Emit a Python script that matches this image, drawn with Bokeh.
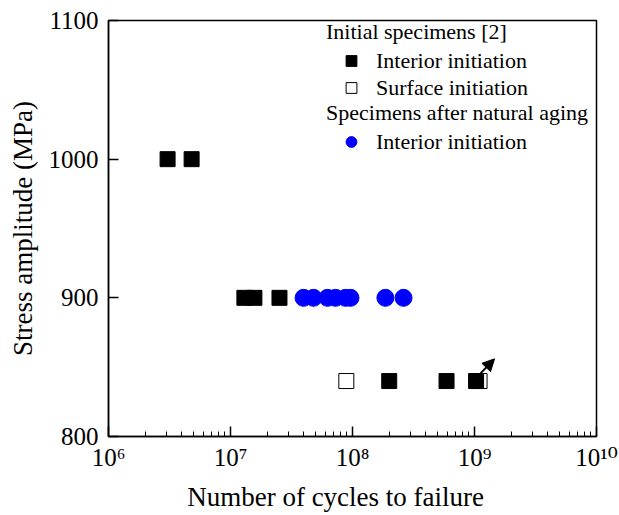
from bokeh.plotting import figure
from bokeh.models import Legend, LegendItem, FixedTicker, LogTicker, Arrow, NormalHead
from bokeh.embed import file_html
from bokeh.resources import INLINE

# ---- data ----
init_interior_n = [3.05e6, 4.8e6, 1.30e7, 1.57e7, 2.52e7, 2.0e8, 5.9e8, 1.03e9]
init_interior_s = [1000, 1000, 900, 900, 900, 840, 840, 840]
init_surface_n = [8.9e7, 1.10e9]
init_surface_s = [840, 840]
aged_interior_n = [3.97e7, 4.79e7, 6.24e7, 7.26e7, 8.77e7, 9.63e7, 1.86e8, 2.62e8]
aged_interior_s = [900, 900, 900, 900, 900, 900, 900, 900]
runout_arrow_start = (1.12e9, 845.5)
runout_arrow_end = (1.46e9, 856.0)
x_ticks = [1e6, 1e7, 1e8, 1e9, 1e10]
x_tick_labels = ["10\u2076", "10\u2077", "10\u2078", "10\u2079", "10\u00b9\u2070"]
y_ticks = [800, 900, 1000, 1100]

FONT = "Liberation Serif, DejaVu Serif"

p = figure(width=619, height=515, x_axis_type="log",
           x_range=(1e6, 1e10), y_range=(800, 1100),
           output_backend="svg", toolbar_location=None,
           min_border_left=108, min_border_right=23,
           min_border_top=20, min_border_bottom=79)

p.xgrid.visible = False
p.ygrid.visible = False
p.outline_line_color = "black"
p.outline_line_width = 1.5
p.background_fill_color = "white"
p.border_fill_color = "white"

r_surf = p.scatter(init_surface_n, init_surface_s, marker="square", size=15,
                   fill_color="white", line_color="black", line_width=1)
r_int = p.scatter(init_interior_n, init_interior_s, marker="square", size=15,
                  fill_color="black", line_color="black")
r_aged = p.scatter(aged_interior_n, aged_interior_s, marker="circle", size=17,
                   fill_color="#0000ff", line_color="#0000ff")

p.add_layout(Arrow(end=NormalHead(size=12, fill_color="black", line_color="black"),
                   x_start=runout_arrow_start[0], y_start=runout_arrow_start[1],
                   x_end=runout_arrow_end[0], y_end=runout_arrow_end[1],
                   line_width=2, line_color="black"))

# axes
xa = p.xaxis[0]
xa.ticker = LogTicker(num_minor_ticks=10)
xa.major_label_overrides = dict(zip(x_ticks, x_tick_labels))
ya = p.yaxis[0]
ya.ticker = FixedTicker(ticks=y_ticks)
for ax in (xa, ya):
    ax.axis_line_width = 1.5
    ax.axis_line_color = "black"
    ax.major_tick_in = 10
    ax.major_tick_out = 0
    ax.major_tick_line_width = 1.5
    ax.major_tick_line_color = "black"
    ax.minor_tick_in = 5
    ax.minor_tick_out = 0
    ax.minor_tick_line_width = 1
    ax.minor_tick_line_color = "black"
    ax.major_label_text_font = FONT
    ax.major_label_text_font_size = "25px"
    ax.major_label_text_color = "black"
    ax.axis_label_text_font = FONT
    ax.axis_label_text_font_size = "27px"
    ax.axis_label_text_font_style = "normal"
    ax.axis_label_text_color = "black"
ya.minor_tick_line_color = None
xa.axis_label = "Number of cycles to failure" + "\u00a0" * 5
ya.axis_label = "Stress amplitude (MPa)"
xa.major_label_standoff = 7
ya.major_label_standoff = 10
xa.axis_label_standoff = 8
ya.axis_label_standoff = 8


def make_legend(title, items, loc):
    lg = Legend(items=items, title=title, location=loc,
                padding=0, margin=0, spacing=0,
                glyph_width=50, glyph_height=27, label_height=26,
                label_standoff=0, title_standoff=2,
                background_fill_alpha=0, border_line_color=None,
                label_text_font=FONT, label_text_font_size="22px",
                label_text_color="black",
                title_text_font=FONT, title_text_font_size="22px",
                title_text_color="black",
                title_text_font_style="normal")
    return lg

leg1 = make_legend("Initial specimens [2]",
                   [LegendItem(label="Interior initiation", renderers=[r_int]),
                    LegendItem(label="Surface initiation", renderers=[r_surf])],
                   (218, 335))
leg2 = make_legend("Specimens after natural aging",
                   [LegendItem(label="Interior initiation", renderers=[r_aged])],
                   (218, 281))
p.add_layout(leg1, "center")
p.add_layout(leg2, "center")

open("out.html", "w").write(file_html(p, INLINE))
